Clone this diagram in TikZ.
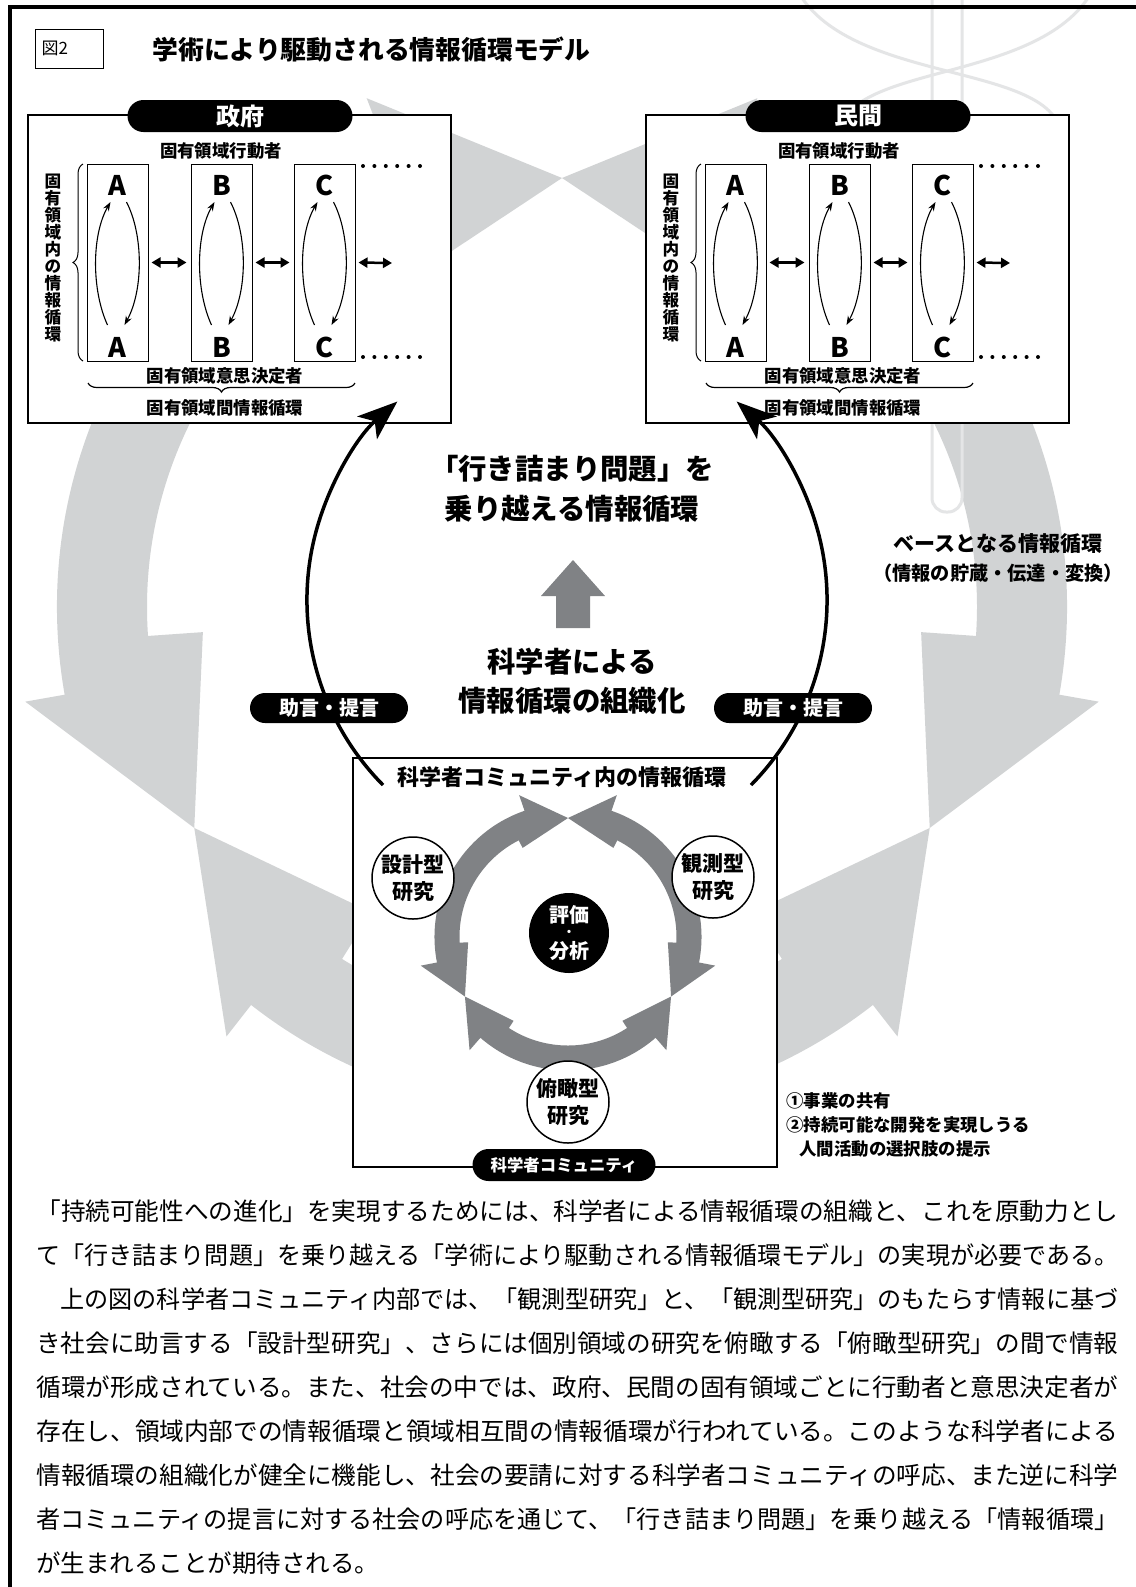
\documentclass[tikz,border=0pt]{standalone}
\usepackage{fontspec}
\setmainfont{Noto Sans CJK JP}
\usepackage{graphicx}
\usetikzlibrary{arrows.meta,decorations.pathreplacing}
\definecolor{ringgray}{HTML}{D1D3D4}
\definecolor{bandgray}{HTML}{808285}
\definecolor{wmgray}{HTML}{E4E5E6}
\newcommand\fsz[2]{\fontsize{#1pt}{#2pt}\selectfont}

\tikzset{
  lbl/.style={inner sep=0pt, font=\fsz{8.7}{10}\bfseries},
  letterlbl/.style={inner sep=0pt, font=\fsz{13.5}{15}\bfseries},
  domainframe/.style={draw, line width=1pt, fill=white, minimum width=211.5pt, minimum height=154pt, inner sep=0pt},
  subbox/.style={draw, line width=0.5pt, minimum width=30.5pt, minimum height=98.5pt, inner sep=0pt},
  pillbig/.style={fill=black, text=white, rounded corners=8pt, minimum width=112.5pt, minimum height=16pt, inner sep=0pt, font=\fsz{12}{13}\bfseries},
  pillmid/.style={fill=black, text=white, rounded corners=7.5pt, minimum width=79pt, minimum height=15pt, inner sep=0pt, font=\fsz{10}{11}\bfseries},
  pillcom/.style={fill=black, text=white, rounded corners=8pt, minimum width=91.5pt, minimum height=16pt, inner sep=0pt, font=\fsz{8.2}{9}\bfseries},
  loopline/.style={line width=0.55pt, -{Stealth[length=4.5pt,width=3.2pt]}},
  dblarrow/.style={line width=1.25pt, {Triangle[length=4.5pt,width=5pt]}-{Triangle[length=4.5pt,width=5pt]}},
  bigarrow/.style={line width=1.75pt, -{Stealth[length=20pt,width=15pt,inset=5pt]}},
  resnode/.style={circle, draw, line width=0.75pt, fill=white, minimum size=41pt, inner sep=0pt, align=center, font=\fsz{10.5}{13.5}\bfseries},
  centertxt/.style={inner sep=0pt, font=\fsz{14.2}{16}\bfseries},
  bodytxt/.style={inner sep=0pt, anchor=west, font=\fsz{12.25}{14}},
  evaltxt/.style={inner sep=0pt, text=white, font=\fsz{10}{11}\bfseries},
  wmline/.style={draw=wmgray, line width=1.5pt},
}

% double-headed ring arrow: a1, a2, Rmid, halfwidth, rtip, rout, rin, outer-head angle, inner-head angle
\newcommand\ringcol{ringgray}
\newcommand\ringarrow[9]{%
  \fill[\ringcol] (#1:#5) -- ({#1+#8}:#6) -- ({#1+#8}:{#3+#4})
    arc[start angle={#1+#8}, end angle={#2-#8}, radius={#3+#4}]
    -- ({#2-#8}:#6) -- (#2:#5) -- ({#2-#9}:#7) -- ({#2-#9}:{#3-#4})
    arc[start angle={#2-#9}, end angle={#1+#9}, radius={#3-#4}]
    -- ({#1+#9}:#7) -- cycle;}

% domain box: x0, y0, prefix, title
\newcommand\domainbox[4]{%
\begin{scope}[shift={(#1,#2)}]
  \node[domainframe] (#3box) at (211.5,154) {};
  \node[pillbig] (#3pill) at (212,1) {#4};
  \node[lbl] (#3act) at (193,36) {固有領域行動者};
  \foreach \i/\L/\cx in {1/A/89.5,2/B/193.5,3/C/296.5} {
    \node[subbox] (#3s\i) at (\cx,147.5) {};
    \node[letterlbl] (#3t\i) at (\cx,70) {\L};
    \node[letterlbl] (#3b\i) at (\cx,232) {\L};
    \draw[loopline] (\cx-10,210) .. controls (\cx-26,175) and (\cx-26,120) .. (\cx-7,87);
    \draw[loopline] (\cx+9,87) .. controls (\cx+26,120) and (\cx+26,175) .. (\cx+7,210);
  }
  \draw[dblarrow] ([xshift=1.5pt]#3s1.east) -- ([xshift=-2pt]#3s2.west);
  \draw[dblarrow] ([xshift=1.5pt]#3s2.east) -- ([xshift=-2pt]#3s3.west);
  \coordinate (#3de) at (364,148);
  \draw[dblarrow] ([xshift=1.5pt]#3s3.east) -- (#3de);
  \foreach \k in {0,...,5} {
    \fill (335+11.4*\k,51) circle[radius=2];
    \fill (335+11.4*\k,242) circle[radius=2];
  }
  \draw[line width=0.5pt, decorate, decoration={brace, amplitude=5pt}] (55,246) -- (55,49);
  \node[inner sep=0pt, align=center, font=\fsz{8.3}{8.5}\bfseries] (#3vt) at (25,143)
     {固\\有\\領\\域\\内\\の\\情\\報\\循\\環};
  \node[lbl] (#3dec) at (197,261) {固有領域意思決定者};
  \draw[line width=0.6pt, decorate, decoration={brace, amplitude=4.5pt}] (327,268) -- (60,268);
  \node[lbl] (#3inter) at (197,293) {固有領域間情報循環};
\end{scope}}

\begin{document}
\begin{tikzpicture}[x=0.5pt,y=-0.5pt]
\useasboundingbox (0,0) rectangle (1136,1587);
\fill[white] (0,0) rectangle (1136,1587);

% big background ring
\renewcommand\ringcol{ringgray}
\begin{scope}[shift={(562,607)},yscale=-1]
  \ringarrow{90}{211}{460}{45}{429}{545}{360}{21}{27}
  \ringarrow{211}{329}{460}{45}{429}{545}{360}{21}{27}
  \ringarrow{-31}{90}{460}{45}{429}{545}{360}{21}{27}
\end{scope}

% watermark
\draw[wmline, rounded corners=7pt] (932,-5) -- (932,512) -- (962,512) -- (962,-5);
\draw[wmline] (800,-5) .. controls (860,90) and (1080,60) .. (1060,150)
   .. controls (1040,230) and (860,200) .. (870,300)
   .. controls (880,360) and (960,380) .. (947,420);
\draw[wmline] (1090,-5) .. controls (1030,90) and (820,60) .. (840,150)
   .. controls (860,230) and (1040,200) .. (1030,300)
   .. controls (1020,360) and (940,380) .. (947,420);

% frame
\draw[line width=2pt] (10,1595) -- (10,7) -- (1140,7);

% heading
\node[draw, line width=0.5pt, minimum height=19.5pt, text width=28pt, inner sep=3pt, align=left, font=\fsz{8.5}{9}] (figlbl) at (69.5,48.5) {図2};
\node[anchor=west, inner sep=0pt, font=\fsz{12.9}{14}\bfseries] (title) at (152,50) {学術により駆動される情報循環モデル};

% domain boxes
\domainbox{28}{115}{g}{政府}
\domainbox{646}{115}{m}{民間}

% scientist community
\node[draw, line width=0.6pt, fill=white, minimum width=212pt, minimum height=204.5pt, inner sep=0pt] (com) at (565,962.5) {};
\renewcommand\ringcol{bandgray}
\begin{scope}[shift={(568,937)},yscale=-1]
  \ringarrow{90}{210}{121}{12.5}{119}{150}{100}{19}{27}
  \ringarrow{210}{330}{121}{12.5}{119}{150}{100}{19}{27}
  \ringarrow{-30}{90}{121}{12.5}{119}{150}{100}{19}{27}
\end{scope}
\node[resnode] (design) at (413,878) {設計型\\研究};
\node[resnode] (observe) at (713,877) {観測型\\研究};
\node[resnode] (overview) at (568,1102) {俯瞰型\\研究};
\node[circle, fill=black, minimum size=40pt, inner sep=0pt] (eval) at (569,933) {};
\node[evaltxt] (evala) at (569,915) {評価};
\node[evaltxt, font=\fsz{6}{6}\bfseries] (evalb) at (569,933) {・};
\node[evaltxt] (evalc) at (569,951) {分析};
\node[inner sep=0pt, font=\fsz{11}{12}\bfseries] (comtitle) at (562,777) {科学者コミュニティ内の情報循環};
\node[pillcom] (compill) at (564,1165) {科学者コミュニティ};

% advice arcs
\coordinate (la0) at (383,785);
\draw[bigarrow] (la0) arc[start angle=135.3, end angle=229, radius=263];
\coordinate (ra0) at (751,785);
\draw[bigarrow] (ra0) arc[start angle=44.7, end angle=-49, radius=263];
\node[pillmid] (advl) at (329,708) {助言・提言};
\node[pillmid] (advr) at (793,708) {助言・提言};

% centre texts
\node[centertxt] (c1) at (572,469) {「行き詰まり問題」を};
\node[centertxt] (c2) at (572,509) {乗り越える情報循環};
\fill[bandgray] (573,560) -- (605,596) -- (590,596) -- (590,628) -- (556,628) -- (556,596) -- (541,596) -- cycle;
\node[centertxt] (c3) at (572,662) {科学者による};
\node[centertxt] (c4) at (572,701) {情報循環の組織化};

% base circulation label
\node[inner sep=0pt, font=\fsz{10.5}{12}\bfseries] (base1) at (998,544) {ベースとなる情報循環};
\node[inner sep=0pt, font=\fsz{9.6}{11}\bfseries] (base2) at (998,573) {（情報の貯蔵・伝達・変換）};

% notes
\node[anchor=west, inner sep=0pt, font=\fsz{8.7}{10}\bfseries] (n1) at (786,1101) {①事業の共有};
\node[anchor=west, inner sep=0pt, font=\fsz{8.7}{10}\bfseries] (n2) at (786,1125) {②持続可能な開発を実現しうる};
\node[anchor=west, inner sep=0pt, font=\fsz{8.7}{10}\bfseries] (n3) at (799,1149) {人間活動の選択肢の提示};

% body text
\node[bodytxt] (p1) at (36,1211) {\resizebox{541pt}{\height}{「持続可能性への進化」を実現するためには、科学者による情報循環の組織と、これを原動力とし}};
\node[bodytxt] (p2) at (36,1255) {\resizebox{541pt}{\height}{て「行き詰まり問題」を乗り越える「学術により駆動される情報循環モデル」の実現が必要である。}};
\node[bodytxt] (p3) at (36,1299) {\resizebox{541pt}{\height}{　上の図の科学者コミュニティ内部では、「観測型研究」と、「観測型研究」のもたらす情報に基づ}};
\node[bodytxt] (p4) at (36,1343) {\resizebox{541pt}{\height}{き社会に助言する「設計型研究」、さらには個別領域の研究を俯瞰する「俯瞰型研究」の間で情報}};
\node[bodytxt] (p5) at (36,1387) {\resizebox{541pt}{\height}{循環が形成されている。また、社会の中では、政府、民間の固有領域ごとに行動者と意思決定者が}};
\node[bodytxt] (p6) at (36,1431) {\resizebox{541pt}{\height}{存在し、領域内部での情報循環と領域相互間の情報循環が行われている。このような科学者による}};
\node[bodytxt] (p7) at (36,1475) {\resizebox{541pt}{\height}{情報循環の組織化が健全に機能し、社会の要請に対する科学者コミュニティの呼応、また逆に科学}};
\node[bodytxt] (p8) at (36,1519) {\resizebox{541pt}{\height}{者コミュニティの提言に対する社会の呼応を通じて、「行き詰まり問題」を乗り越える「情報循環」}};
\node[bodytxt] (p9) at (36,1563) {が生まれることが期待される。};
\end{tikzpicture}
\end{document}
